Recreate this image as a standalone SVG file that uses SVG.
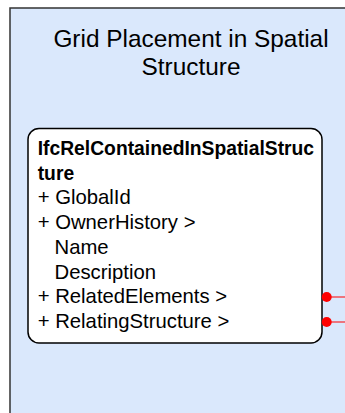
<svg xmlns="http://www.w3.org/2000/svg" width="345" height="413" viewBox="0 0 345 413">
  <style>
    .frame { fill: #dae8fc; stroke: #333333; stroke-width: 1.5; }
    .title { font-family: "Liberation Sans", Arial, sans-serif; font-size: 24.4px; fill: #000000; text-anchor: middle; }
    .cls { fill: #ffffff; stroke: #000000; stroke-width: 1.5; }
    .hdr { font-family: "Liberation Sans", Arial, sans-serif; font-size: 19.3px; font-weight: bold; fill: #000000; }
    .attr { font-family: "Liberation Sans", Arial, sans-serif; font-size: 20.3px; fill: #000000; }
    .conn { stroke: #ff0000; stroke-width: 1; fill: none; }
    .dot { fill: #ff0000; }
  </style>
  <rect width="345" height="413" fill="#ffffff"/>
  <g id="container">
    <rect class="frame" x="10" y="8" width="360" height="420"/>
    <text class="title" x="191" y="47">Grid Placement in Spatial</text>
    <text class="title" x="191" y="74.5">Structure</text>
  </g>
  <g id="IfcRelContainedInSpatialStructure">
    <rect class="cls" x="28" y="128.5" width="294" height="214.5" rx="11" ry="11"/>
    <text class="hdr" x="37.7" y="155">IfcRelContainedInSpatialStruc</text>
    <text class="hdr" x="37.7" y="179.7">ture</text>
    <text class="attr" x="37.7" y="204.4">+ GlobalId</text>
    <text class="attr" x="37.7" y="229.1">+ OwnerHistory &gt;</text>
    <text class="attr" x="54.5" y="253.8">Name</text>
    <text class="attr" x="54.5" y="278.5">Description</text>
    <text class="attr" x="37.7" y="303.2">+ RelatedElements &gt;</text>
    <text class="attr" x="37.7" y="327.9">+ RelatingStructure &gt;</text>
  </g>
  <g id="connectors">
    <line class="conn" x1="326.7" y1="297" x2="345" y2="297"/>
    <circle class="dot" cx="326.7" cy="297" r="5"/>
    <line class="conn" x1="326.7" y1="322" x2="345" y2="322"/>
    <circle class="dot" cx="326.7" cy="322" r="5"/>
  </g>
</svg>
